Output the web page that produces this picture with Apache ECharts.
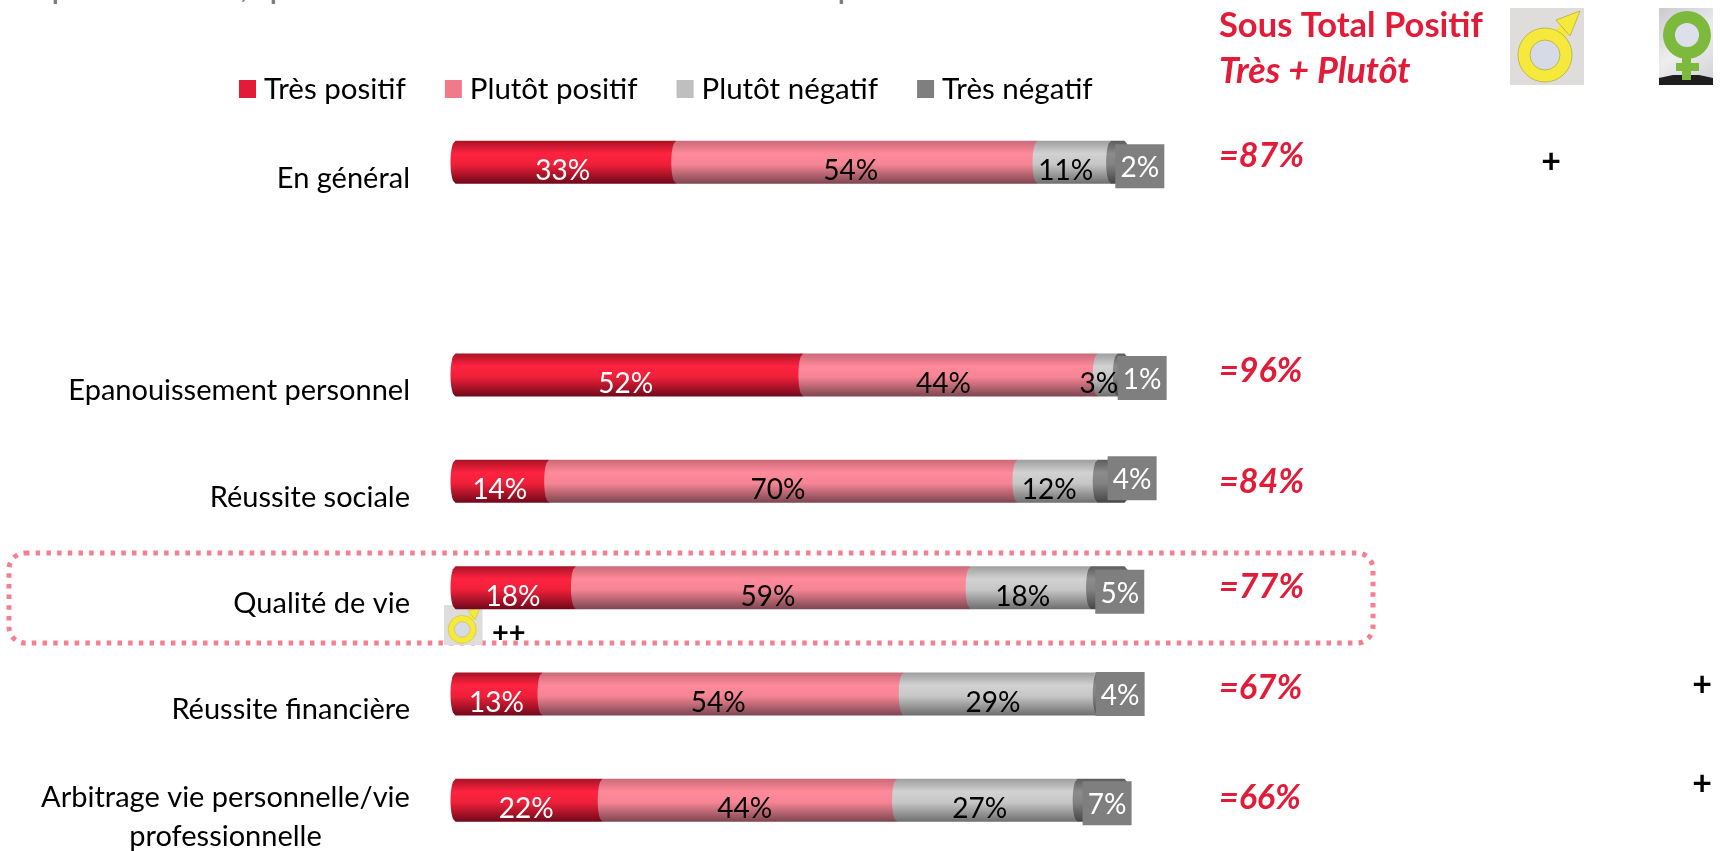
<!DOCTYPE html>
<html>
<head>
<meta charset="utf-8">
<title>Sous Total Positif</title>
<style>
  html, body { margin: 0; padding: 0; background: #fff; }
  #chart { width: 1720px; height: 851px; }
</style>
<script src="https://cdn.jsdelivr.net/npm/echarts@6/dist/echarts.min.js"></script>
</head>
<body>
<div id="chart"></div>
<script>
// Data, the empty category keeps the gap under "En général"
const categories = ['En général', '', 'Epanouissement personnel', 'Réussite sociale', 'Qualité de vie', 'Réussite financière', 'Arbitrage vie personnelle/vie\nprofessionnelle'];
const tresPositif = [33, null, 52, 14, 18, 13, 22];
const plutotPositif = [54, null, 44, 70, 59, 54, 44];
const plutotNegatif = [11, null, 3, 12, 18, 29, 27];
const tresNegatif = [2, null, 1, 4, 5, 4, 7];
const sousTotal = ['=87%', null, '=96%', '=84%', '=77%', '=67%', '=66%'];
const marksMale = ['+', null, null, null, null, null, null];
const marksFemale = [null, null, null, null, null, '+', '+'];
const seriesNames = ['Très positif', 'Plutôt positif', 'Plutôt négatif', 'Très négatif'];

// Layout
const FONT = 'Lato';
const RED = '#e11b38';
const barHeight = 43;
const capDepth = 5;
const boxW = 49, boxH = 44;
const boxShiftX = [22, 0, 21, 21, 12, 9, 6];
const boxShiftY = [4, 0, 3, -3, 4, 0, 3];
const totalShiftY = [-6, 0, -4, 1, -1, -6, -2];
const femaleShiftY = [0, 0, 0, 0, 0, -9, -16];
const totalX = 1219, maleX = 1551, femaleX = 1702;

const legendColors = ['#e11b38', '#f07a8a', '#bfbfbf', '#7f7f7f'];
const labelColors = ['#fff', '#000', '#000', '#fff'];
const shades = [
  ['#a81226', '#ff2340', '#ee2039', '#70081a'],
  ['#c96a78', '#ff8a9a', '#f58494', '#7c4650'],
  ['#9e9e9e', '#d2d2d2', '#c6c6c6', '#6e6e6e'],
  ['#5c5c5c', '#8c8c8c', '#828282', '#454545']
];

function gradient(c) {
  return new echarts.graphic.LinearGradient(0, 0, 0, 1, [
    { offset: 0, color: c[0] },
    { offset: 0.3, color: c[1] },
    { offset: 0.55, color: c[2] },
    { offset: 1, color: c[3] }
  ]);
}

function segmentPoints(x0, x1, top, bottom, closeRight) {
  const pts = [];
  const n = 14;
  for (let i = 0; i <= n; i++) {
    const t = i / n;
    pts.push([x0 - capDepth * Math.sqrt(1 - Math.pow(2 * t - 1, 2)), bottom + (top - bottom) * t]);
  }
  for (let i = 0; i <= n; i++) {
    const t = i / n;
    const bulge = closeRight ? capDepth * Math.sqrt(1 - Math.pow(2 * t - 1, 2)) : 0;
    pts.push([x1 + bulge, top + (bottom - top) * t]);
  }
  return pts;
}

function stackedSeries(level, values) {
  const lists = [tresPositif, plutotPositif, plutotNegatif, tresNegatif];
  const data = [];
  values.forEach((v, row) => {
    if (v === null) return;
    let start = 0;
    for (let k = 0; k < level; k++) start += lists[k][row];
    data.push([start, row, start + v, v]);
  });
  return {
    name: seriesNames[level],
    type: 'custom',
    itemStyle: { color: legendColors[level] },
    encode: { x: [0, 2], y: 1 },
    data: data,
    renderItem: function (params, api) {
      const row = api.value(1);
      const value = api.value(3);
      const a = api.coord([api.value(0), row]);
      const b = api.coord([api.value(2), row]);
      const cy = a[1];
      const isLast = level === 3;
      const children = [{
        type: 'polygon',
        z2: level,
        shape: { points: segmentPoints(a[0], b[0], cy - barHeight / 2, cy + barHeight / 2, isLast) },
        style: { fill: gradient(shades[level]) }
      }];
      const mid = (a[0] + b[0]) / 2;
      if (isLast) {
        const bx = mid + boxShiftX[row] - boxW / 2;
        const by = cy + boxShiftY[row] - boxH / 2;
        children.push({
          type: 'rect', z2: 20,
          shape: { x: bx, y: by, width: boxW, height: boxH },
          style: { fill: '#7f7f7f' }
        });
        children.push({
          type: 'text', z2: 21,
          style: { x: bx + boxW / 2, y: by + boxH / 2 + 2, text: value + '%', fill: labelColors[level], font: '28px ' + FONT, align: 'center', verticalAlign: 'middle' }
        });
      } else {
        // the labels sit a little left of the segment middle in the original
        const lx = mid - 2 - (mid - 456) * 0.0105;
        children.push({
          type: 'text', z2: 10,
          style: { x: lx, y: cy + 9, text: value + '%', fill: labelColors[level], font: '28px ' + FONT, align: 'center', verticalAlign: 'middle' }
        });
      }
      return { type: 'group', children: children };
    }
  };
}

// row names, totals and the + marks; the names sit lower than the bars so they are not axis labels
const rowTexts = {
  name: 'colonnes',
  type: 'custom',
  silent: true,
  encode: { y: 1 },
  data: categories.map((c, i) => [0, i]),
  renderItem: function (params, api) {
    const row = api.value(1);
    const cy = api.coord([0, row])[1];
    const children = [];
    if (categories[row]) {
      // two line names are centred on their longest line
      const twoLines = categories[row].indexOf('\n') >= 0;
      children.push({
        type: 'text',
        style: { x: twoLines ? 225.5 : 410, y: cy + (twoLines ? 17 : 16), text: categories[row], fill: '#000', font: '29px ' + FONT, lineHeight: 39, align: twoLines ? 'center' : 'right', verticalAlign: 'middle' }
      });
    }
    if (sousTotal[row]) {
      children.push({
        type: 'text',
        style: { x: totalX, y: cy + totalShiftY[row], text: sousTotal[row], fill: RED, font: 'italic bold 34px ' + FONT, align: 'left', verticalAlign: 'middle' }
      });
    }
    if (marksMale[row]) {
      children.push({
        type: 'text',
        style: { x: maleX, y: cy, text: marksMale[row], fill: '#000', font: 'bold 34px ' + FONT, align: 'center', verticalAlign: 'middle' }
      });
    }
    if (marksFemale[row]) {
      children.push({
        type: 'text',
        style: { x: femaleX, y: cy + femaleShiftY[row], text: marksFemale[row], fill: '#000', font: 'bold 34px ' + FONT, align: 'center', verticalAlign: 'middle' }
      });
    }
    return { type: 'group', children: children };
  }
};

function maleIcon(x, y, s) {
  const stroke = '#c4b64e';
  return {
    type: 'group', x: x, y: y, scaleX: s, scaleY: s,
    children: [
      { type: 'rect', shape: { x: 0, y: 0, width: 74, height: 77 }, style: { fill: '#dedddc' } },
      { type: 'circle', shape: { cx: 35, cy: 47, r: 16 }, style: { fill: '#d6dae6' } },
      { type: 'line', shape: { x1: 46, y1: 31, x2: 60, y2: 14 }, style: { stroke: '#f5e93c', lineWidth: 12 } },
      { type: 'polygon', shape: { points: [[70, 3], [46, 12], [60, 28]] }, style: { fill: '#f5e93c', stroke: stroke, lineWidth: 1 } },
      { type: 'ring', shape: { cx: 35, cy: 47, r: 27, r0: 15 }, style: { fill: '#f5e93c', stroke: stroke, lineWidth: 1 } }
    ]
  };
}

function femaleIcon(x, y) {
  const green = '#7cb93c';
  return {
    type: 'group', x: x, y: y,
    children: [
      {
        type: 'rect', shape: { x: 0, y: 0, width: 54, height: 77 },
        style: { fill: new echarts.graphic.LinearGradient(0, 0, 1, 1, [{ offset: 0, color: '#c9c9cf' }, { offset: 0.5, color: '#eeeef0' }, { offset: 1, color: '#cfcfd6' }]) }
      },
      { type: 'polygon', shape: { points: [[0, 70], [14, 67], [40, 67], [54, 70], [54, 77], [0, 77]] }, style: { fill: '#1e1e1e' } },
      { type: 'circle', shape: { cx: 28, cy: 27, r: 13 }, style: { fill: '#dde0ec' } },
      { type: 'ring', shape: { cx: 28, cy: 27, r: 24, r0: 12 }, style: { fill: green } },
      { type: 'rect', shape: { x: 23, y: 48, width: 9, height: 24 }, style: { fill: green } },
      { type: 'rect', shape: { x: 17, y: 55, width: 23, height: 8 }, style: { fill: green } }
    ]
  };
}

// what is left of the cut-off title at the very top
function cutTitle(x, ch) {
  return { type: 'text', style: { x: x, y: -34, text: ch, fill: '#7f7f7f', font: '38px ' + FONT } };
}

const chart = echarts.init(document.getElementById('chart'));
chart.setOption({
  backgroundColor: '#fff',
  animation: false,
  legend: {
    data: seriesNames,
    selectedMode: false,
    left: 234,
    top: 69,
    itemWidth: 17,
    itemHeight: 18,
    itemGap: 39,
    icon: 'rect',
    textStyle: { fontFamily: FONT, fontSize: 29.5, color: '#000', padding: [0, 0, 0, 3] }
  },
  // boundaryGap off: first category on the top edge, last on the bottom edge
  grid: { left: 455.5, width: 669, top: 162.3, height: 638 },
  xAxis: { type: 'value', min: 0, max: 100, show: false },
  yAxis: {
    type: 'category',
    inverse: true,
    boundaryGap: false,
    data: categories,
    axisLine: { show: false },
    axisTick: { show: false },
    splitLine: { show: false },
    axisLabel: { show: false }
  },
  series: [
    stackedSeries(0, tresPositif),
    stackedSeries(1, plutotPositif),
    stackedSeries(2, plutotNegatif),
    stackedSeries(3, tresNegatif),
    rowTexts
  ],
  graphic: [
    cutTitle(51, 'p'), cutTitle(240, ','), cutTitle(269, 'p'), cutTitle(837, 'p'),
    { type: 'text', style: { x: 1219, y: 26, text: 'Sous Total Positif', fill: RED, font: 'bold 34.5px ' + FONT, verticalAlign: 'middle' } },
    { type: 'text', style: { x: 1219, y: 71, text: 'Très + Plutôt', fill: RED, font: 'italic bold 36px ' + FONT, verticalAlign: 'middle' } },
    maleIcon(1510, 8, 1),
    femaleIcon(1659, 8),
    {
      type: 'rect', z: -1,
      shape: { x: 9, y: 553, width: 1364, height: 90, r: 16 },
      style: { fill: 'none', stroke: '#f4808f', lineWidth: 5, lineDash: [4.5, 6.2] }
    },
    maleIcon(444, 605, 0.52),
    { type: 'text', style: { x: 492, y: 618, text: '++', fill: '#000', font: 'bold 29px ' + FONT } }
  ]
});
</script>
</body>
</html>
